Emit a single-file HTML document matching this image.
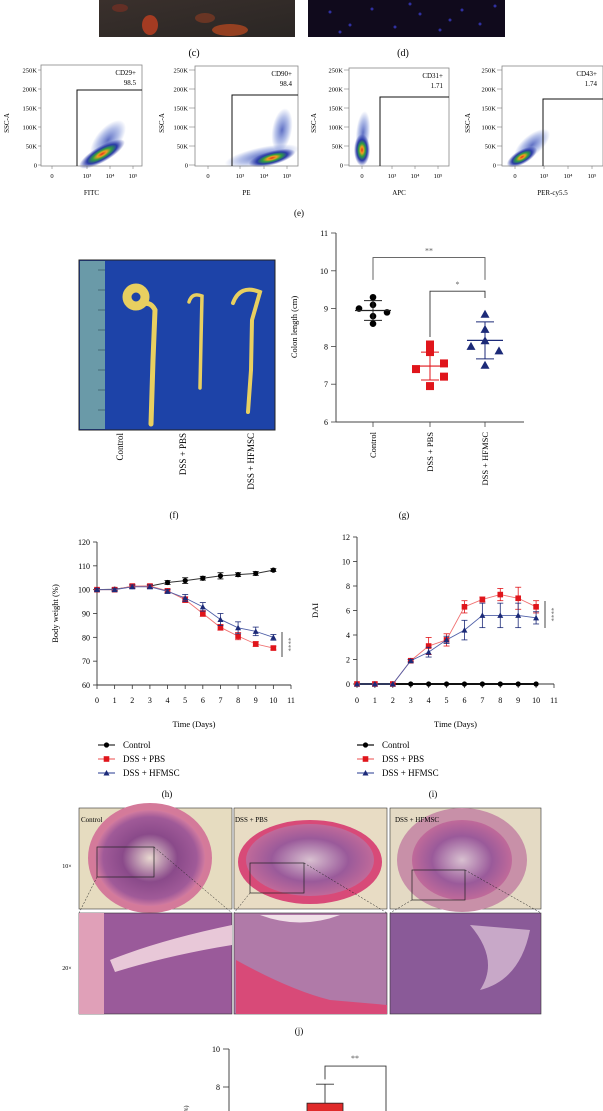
<!DOCTYPE html>
<html><head><meta charset="utf-8">
<style>
html,body{margin:0;padding:0;background:#fff;}
svg{display:block;font-family:"Liberation Serif",serif;}
</style></head>
<body>
<svg id="fig" width="603" height="1111" viewBox="0 0 603 1111" xmlns="http://www.w3.org/2000/svg">
<defs>
<radialGradient id="dens" cx="50%" cy="50%" r="50%">
<stop offset="0" stop-color="#e0301a"/><stop offset="0.2" stop-color="#f0a020"/><stop offset="0.4" stop-color="#30a040"/><stop offset="0.65" stop-color="#2a3aa8"/><stop offset="1" stop-color="#2a3aa8" stop-opacity="0"/>
</radialGradient>
<radialGradient id="halo" cx="50%" cy="50%" r="50%">
<stop offset="0" stop-color="#2a40b0" stop-opacity="0.75"/><stop offset="0.6" stop-color="#3050c0" stop-opacity="0.35"/><stop offset="1" stop-color="#3050c0" stop-opacity="0"/>
</radialGradient>
<linearGradient id="imgc" x1="0" y1="0" x2="1" y2="1"><stop offset="0" stop-color="#3a302c"/><stop offset="1" stop-color="#2a2624"/></linearGradient>
<radialGradient id="tissue" cx="50%" cy="50%" r="50%"><stop offset="0" stop-color="#e8d8d0"/><stop offset="0.5" stop-color="#8a4a8a"/><stop offset="0.85" stop-color="#a05a98"/><stop offset="1" stop-color="#d07aa0"/></radialGradient>
<radialGradient id="tissue2" cx="50%" cy="50%" r="50%"><stop offset="0" stop-color="#d8c0d0"/><stop offset="0.6" stop-color="#9a5a9a"/><stop offset="1" stop-color="#c06a9a"/></radialGradient>
</defs>

<g>
<rect x="99" y="0" width="196" height="37" fill="url(#imgc)"/>
<ellipse cx="150" cy="25" rx="8" ry="10" fill="#c04020" opacity="0.8"/>
<ellipse cx="230" cy="30" rx="18" ry="6" fill="#c04a20" opacity="0.7"/>
<ellipse cx="205" cy="18" rx="10" ry="5" fill="#a04020" opacity="0.5"/>
<ellipse cx="120" cy="8" rx="8" ry="4" fill="#903020" opacity="0.5"/>
</g>
<g>
<rect x="308" y="0" width="197" height="37" fill="#100a1c"/>
<g fill="#3030a0">
<circle cx="330" cy="12" r="1.5"/><circle cx="350" cy="25" r="1.5"/><circle cx="372" cy="9" r="1.5"/><circle cx="395" cy="27" r="1.5"/><circle cx="420" cy="14" r="1.5"/><circle cx="440" cy="30" r="1.5"/><circle cx="462" cy="10" r="1.5"/><circle cx="480" cy="24" r="1.5"/><circle cx="340" cy="32" r="1.5"/><circle cx="410" cy="4" r="1.5"/><circle cx="450" cy="20" r="1.5"/><circle cx="495" cy="6" r="1.5"/>
</g></g>
<text x="194" y="56" font-size="10" text-anchor="middle">(c)</text>
<text x="403" y="56" font-size="10" text-anchor="middle">(d)</text>

<g id="flow"></g>
<text x="299" y="216" font-size="9" text-anchor="middle">(e)</text>

<g>
<rect x="79" y="260" width="196" height="170" fill="#1d43a8" stroke="#222" stroke-width="1"/>
<rect x="80" y="261" width="25" height="168" fill="#6a9aa8"/>
<g stroke="#2a4a5a" stroke-width="0.6">
<line x1="98" y1="270" x2="105" y2="270"/><line x1="98" y1="290" x2="105" y2="290"/><line x1="98" y1="310" x2="105" y2="310"/><line x1="98" y1="330" x2="105" y2="330"/><line x1="98" y1="350" x2="105" y2="350"/><line x1="98" y1="370" x2="105" y2="370"/><line x1="98" y1="390" x2="105" y2="390"/><line x1="98" y1="410" x2="105" y2="410"/>
</g>
<g fill="none" stroke="#e8cf60" stroke-linecap="round">
<circle cx="136" cy="297" r="9" stroke-width="9"/>
<path d="M140 305 Q150 300 155 310 L153 360 L151 424" stroke-width="5"/>
<path d="M189 302 Q192 292 202 296 L201 340 L200 388" stroke-width="3.5"/>
<path d="M233 303 Q240 284 260 292 L252 320 L251 370 L248 412" stroke-width="4"/>
</g>
</g>
<g font-size="9">
<text transform="translate(123,433) rotate(-90)" text-anchor="end">Control</text>
<text transform="translate(186,433) rotate(-90)" text-anchor="end">DSS + PBS</text>
<text transform="translate(254,433) rotate(-90)" text-anchor="end">DSS + HFMSC</text>
</g>
<text x="174" y="518" font-size="9" text-anchor="middle">(f)</text>

<g id="chartG"></g>
<text x="404" y="518" font-size="9" text-anchor="middle">(g)</text>

<g id="chartH"></g>
<g id="chartI"></g>
<text x="167" y="797" font-size="9" text-anchor="middle">(h)</text>
<text x="433" y="797" font-size="9" text-anchor="middle">(i)</text>

<g>
<rect x="79" y="808" width="153" height="101" fill="#e6dcc0" stroke="#333" stroke-width="0.6"/>
<ellipse cx="150" cy="858" rx="62" ry="55" fill="#d47a9a"/>
<ellipse cx="150" cy="858" rx="55" ry="48" fill="url(#tissue)"/>
<rect x="234" y="808" width="153" height="101" fill="#e8dcc4" stroke="#333" stroke-width="0.6"/>
<ellipse cx="310" cy="862" rx="72" ry="42" fill="#d84a78"/>
<ellipse cx="310" cy="860" rx="64" ry="36" fill="url(#tissue2)"/>
<rect x="390" y="808" width="151" height="101" fill="#e4dac4" stroke="#333" stroke-width="0.6"/>
<ellipse cx="462" cy="860" rx="65" ry="52" fill="#c890a8"/>
<ellipse cx="462" cy="860" rx="50" ry="40" fill="url(#tissue2)"/>
<rect x="79" y="913" width="153" height="101" fill="#9a5a9a" stroke="#333" stroke-width="0.6"/>
<rect x="79" y="913" width="25" height="101" fill="#e0a0b8"/>
<path d="M110 960 Q160 940 232 925 L232 945 Q170 955 115 972 Z" fill="#e8c8d8"/>
<rect x="234" y="913" width="153" height="101" fill="#b07aa8" stroke="#333" stroke-width="0.6"/>
<path d="M236 960 Q290 990 330 1000 L387 1005 L387 1014 L236 1014 Z" fill="#d84a78"/>
<path d="M260 915 Q300 930 340 915 Z" fill="#f0e0e8"/>
<rect x="390" y="913" width="151" height="101" fill="#8a5a98" stroke="#333" stroke-width="0.6"/>
<path d="M470 925 Q500 960 480 990 Q520 980 530 930 Z" fill="#c8a8c8"/>
<g fill="none" stroke="#222" stroke-width="0.7">
<rect x="97" y="847" width="57" height="30"/>
<rect x="250" y="863" width="54" height="30"/>
<rect x="412" y="870" width="53" height="30"/>
</g>
<g stroke="#222" stroke-width="0.5" stroke-dasharray="2,1.5">
<line x1="97" y1="877" x2="79" y2="913"/><line x1="154" y1="847" x2="232" y2="913"/>
<line x1="250" y1="893" x2="234" y2="913"/><line x1="304" y1="863" x2="387" y2="913"/>
<line x1="412" y1="900" x2="390" y2="913"/><line x1="465" y1="870" x2="541" y2="913"/>
</g>
<text x="81" y="822" font-size="7">Control</text>
<text x="235" y="822" font-size="7">DSS + PBS</text>
<text x="395" y="822" font-size="7">DSS + HFMSC</text>
</g>
<text x="67" y="868" font-size="6" text-anchor="middle">10×</text>
<text x="67" y="970" font-size="6" text-anchor="middle">20×</text>
<text x="299" y="1034" font-size="9" text-anchor="middle">(j)</text>

<g id="chartK"></g>
</svg>

<script>
const flowMarkers = ["CD29+","CD90+","CD31+","CD43+"];
const flowValues = ["98.5","98.4","1.71","1.74"];
const flowAxes = ["FITC","PE","APC","PER-cy5.5"];
const flowYTicks = ["250K","200K","150K","100K","50K","0"];

const colonCats = ["Control","DSS + PBS","DSS + HFMSC"];
const colonControl = [9.3,9.1,9.0,8.9,8.8,8.6];
const colonPBS = [8.05,7.85,7.55,7.4,7.2,6.95];
const colonHFMSC = [8.85,8.45,8.15,8.0,7.88,7.5];
const colonMean = [8.95,7.48,8.16];
const colonSD = [0.26,0.37,0.49];
const colonYTicks = [6,7,8,9,10,11];

const days = [0,1,2,3,4,5,6,7,8,9,10];
const bwControl = [100,100.2,101.3,101.5,103,103.8,104.8,105.8,106.3,106.8,108.2];
const bwControlErr = [0.5,0.5,0.6,0.6,0.8,1.2,0.8,1.3,0.8,0.8,0.6];
const bwPBS = [100,100,101.5,101.5,99.5,95.8,90,84.2,80.5,77.2,75.5];
const bwPBSErr = [0.5,0.6,0.8,0.8,0.8,1.2,1.2,1.2,1.5,1,0.8];
const bwHFMSC = [100,100,101.2,101.2,99.3,96.5,92.8,87.5,84,82.5,80];
const bwHFMSCErr = [0.5,0.6,0.8,0.8,0.8,1.5,1.8,2.5,2.5,1.8,1.2];
const bwYTicks = [60,70,80,90,100,110,120];

const daiControl = [0,0,0,0,0,0,0,0,0,0,0];
const daiPBS = [0,0,0,1.9,3.1,3.6,6.3,6.9,7.3,7.0,6.3];
const daiPBSErr = [0,0,0,0.1,0.7,0.5,0.5,0.2,0.5,0.9,0.5];
const daiHFMSC = [0,0,0,1.9,2.6,3.6,4.4,5.6,5.6,5.6,5.4];
const daiHFMSCErr = [0,0,0,0.1,0.4,0.3,0.8,1.0,1.0,1.0,0.5];
const daiYTicks = [0,2,4,6,8,10,12];
const xTicks = [0,1,2,3,4,5,6,7,8,9,10,11];

const barValues = [7.15];
const barErr = [1.0];
const barYTicks = [8,10];

const NS = "http://www.w3.org/2000/svg";
function mk(tag, attrs, parent){ const e=document.createElementNS(NS,tag); for(const k in attrs) e.setAttribute(k,attrs[k]); parent.appendChild(e); return e; }
function txt(parent, x, y, s, size, anchor, extra){ const t=mk("text",Object.assign({x:x,y:y,"font-size":size,"text-anchor":anchor||"start"},extra||{}),parent); t.textContent=s; return t; }

(function(){
  const g=document.getElementById("flow");
  const frames=[{x0:41,x1:142,top:65,gate:77,gt:90,lab:37,ssc:6,xt:[52,87,110,133],
                  blobs:[[108,140,24,12,-50,"halo"],[102,154,26,8,-30,"dens"]]},
                {x0:195,x1:298,top:66,gate:232,gt:95,lab:188,ssc:161,xt:[208,240,264,287],
                  blobs:[[282,130,10,22,10,"halo"],[262,156,38,9,-12,"halo"],[272,158,24,7,-15,"dens"]]},
                {x0:349,x1:449,top:68,gate:380,gt:97,lab:343,ssc:313,xt:[362,392,415,438],
                  blobs:[[363,133,7,22,5,"halo"],[362,150,8,16,0,"dens"]]},
                {x0:502,x1:603,top:66,gate:543,gt:99,lab:496,ssc:467,xt:[515,544,568,592],
                  blobs:[[532,145,22,10,-40,"halo"],[522,157,17,7,-30,"dens"]]}];
  const bottom=166;
  frames.forEach((f,i)=>{
    const p=mk("g",{},g);
    
    
    f.blobs.forEach(b=>mk("ellipse",{cx:b[0],cy:b[1],rx:b[2],ry:b[3],fill:`url(#${b[5]})`,transform:`rotate(${b[4]} ${b[0]} ${b[1]})`},p));
    mk("rect",{x:f.x0,y:f.top,width:f.x1-f.x0,height:bottom-f.top,fill:"none",stroke:"#888","stroke-width":0.8},p);
    mk("polyline",{points:`${f.gate},${bottom} ${f.gate},${f.gt} ${f.x1},${f.gt}`,fill:"none",stroke:"#111","stroke-width":1},p);
    txt(p,f.x1-6,f.top+10,flowMarkers[i],7,"end");
    txt(p,f.x1-6,f.top+20,flowValues[i],7,"end");
    flowYTicks.forEach((s,j)=>{ const y=70+j*19; txt(p,f.lab,y+2.5,s,6.5,"end"); mk("line",{x1:f.lab+1,x2:f.x0,y1:y,y2:y,stroke:"#666","stroke-width":0.5},p); });
    const xl=["0","10³","10⁴","10⁵"];
    f.xt.forEach((x,j)=>{ txt(p,x,178,xl[j],6.5,"middle"); mk("line",{x1:x,x2:x,y1:bottom,y2:bottom+3,stroke:"#666","stroke-width":0.5},p); });
    txt(p,(f.x0+f.x1)/2,195,flowAxes[i],7,"middle");
    txt(p,0,0,"SSC-A",7,"middle",{transform:`translate(${f.ssc+3},123) rotate(-90)`});
  });
})();

(function(){
  const g=document.getElementById("chartG");
  const X0=336,X1=524,yS=v=>422-(v-6)*37.8;
  const cx=[373,430,485];
  mk("line",{x1:X0,x2:X0,y1:yS(11),y2:yS(6),stroke:"#444","stroke-width":1},g);
  mk("line",{x1:X0,x2:X1,y1:yS(6),y2:yS(6),stroke:"#444","stroke-width":1},g);
  colonYTicks.forEach(v=>{ mk("line",{x1:X0-5,x2:X0,y1:yS(v),y2:yS(v),stroke:"#444","stroke-width":0.8},g); txt(g,X0-8,yS(v)+3,String(v),8,"end"); });
  cx.forEach((x,i)=>{ mk("line",{x1:x,x2:x,y1:yS(6),y2:yS(6)+5,stroke:"#444","stroke-width":0.8},g);
    txt(g,0,0,colonCats[i],8.5,"end",{transform:`translate(${x+3},${yS(6)+10}) rotate(-90)`}); });
  txt(g,0,0,"Colon length (cm)",8.5,"middle",{transform:`translate(297,327) rotate(-90)`});
  const offA=[0,0,-14,14,0,0];
  const offB=[0,0,14,-14,14,0];
  const offC=[0,0,0,-14,14,0];
  colonControl.forEach((v,j)=>{ const c=mk("circle",{cx:cx[0]+offA[j],cy:yS(v),r:3.3,fill:"#000"},g);   });
  colonPBS.forEach((v,j)=>{ const r=mk("rect",{x:cx[1]+offB[j]-4,y:yS(v)-4,width:8,height:8,fill:"#e0151b"},g);   });
  colonHFMSC.forEach((v,j)=>{ const x=cx[2]+offC[j],y=yS(v); const p=mk("polygon",{points:`${x},${y-4.5} ${x+4.5},${y+3.5} ${x-4.5},${y+3.5}`,fill:"#1c2a78"},g);   });
  const cols=["#222","#e0151b","#1c2a78"];
  colonMean.forEach((m,i)=>{ const c=cols[i];
    mk("line",{x1:cx[i]-18,x2:cx[i]+18,y1:yS(m),y2:yS(m),stroke:c,"stroke-width":1.2},g);
    mk("line",{x1:cx[i],x2:cx[i],y1:yS(m+colonSD[i]),y2:yS(m-colonSD[i]),stroke:c,"stroke-width":1},g);
    [m+colonSD[i],m-colonSD[i]].forEach(v=>mk("line",{x1:cx[i]-9,x2:cx[i]+9,y1:yS(v),y2:yS(v),stroke:c,"stroke-width":1},g)); });
  mk("polyline",{points:`${cx[0]},${yS(9.76)} ${cx[0]},${yS(10.35)} ${cx[2]},${yS(10.35)} ${cx[2]},${yS(9.76)}`,fill:"none",stroke:"#555","stroke-width":0.9},g);
  txt(g,(cx[0]+cx[2])/2,yS(10.35)-4,"**",8,"middle",{fill:"#666"});
  mk("polyline",{points:`${cx[1]},${yS(8.25)} ${cx[1]},${yS(9.46)} ${cx[2]},${yS(9.46)} ${cx[2]},${yS(9.28)}`,fill:"none",stroke:"#333","stroke-width":0.9},g);
  txt(g,(cx[1]+cx[2])/2,yS(9.46)-4,"*",8,"middle",{fill:"#666"});
})();

function lineChart(g, X0, X1, Ytop, Ybot, vmin, vmax, yTicks, ylabel, series, sig, legendX){
  const xS=d=>X0+(X1-X0)*d/11, yS=v=>Ybot-(v-vmin)*(Ybot-Ytop)/(vmax-vmin);
  mk("line",{x1:X0,x2:X0,y1:Ytop,y2:Ybot,stroke:"#333","stroke-width":0.9},g);
  mk("line",{x1:X0,x2:X1,y1:Ybot,y2:Ybot,stroke:"#333","stroke-width":0.9},g);
  yTicks.forEach(v=>{ mk("line",{x1:X0-4,x2:X0,y1:yS(v),y2:yS(v),stroke:"#333","stroke-width":0.8},g); txt(g,X0-7,yS(v)+3,String(v),8,"end"); });
  xTicks.forEach(d=>{ mk("line",{x1:xS(d),x2:xS(d),y1:Ybot,y2:Ybot+4,stroke:"#333","stroke-width":0.8},g); txt(g,xS(d),703,String(d),8,"middle"); });
  txt(g,(X0+X1)/2,727,"Time (Days)",8.5,"middle");
  txt(g,0,0,ylabel,8.5,"middle",{transform:`translate(${X0-39},${(Ytop+Ybot)/2}) rotate(-90)`});
  series.forEach(s=>{
    const pts=days.map((d,i)=>`${xS(d)},${yS(s.v[i])}`).join(" ");
    const pl=mk("polyline",{points:pts,fill:"none",stroke:s.line,"stroke-width":s.w},g);
    
    
    days.forEach((d,i)=>{ const x=xS(d),y=yS(s.v[i]);
      if(s.e&&s.e[i]>0){ const e=s.e[i]; mk("line",{x1:x,x2:x,y1:yS(s.v[i]+e),y2:yS(s.v[i]-e),stroke:s.c,"stroke-width":0.8},g);
        [s.v[i]+e,s.v[i]-e].forEach(v=>mk("line",{x1:x-3,x2:x+3,y1:yS(v),y2:yS(v),stroke:s.c,"stroke-width":0.8},g)); }
      let m;
      if(s.shape==="c") m=mk("circle",{cx:x,cy:y,r:2.6,fill:s.c},g);
      else if(s.shape==="s") m=mk("rect",{x:x-2.8,y:y-2.8,width:5.6,height:5.6,fill:s.c},g);
      else m=mk("polygon",{points:`${x},${y-3} ${x+3},${y+2.5} ${x-3},${y+2.5}`,fill:s.c},g);
      
      
    });
  });
  mk("line",{x1:sig.x,x2:sig.x,y1:sig.y1,y2:sig.y2,stroke:"#333","stroke-width":0.9},g);
  txt(g,0,0,"****",7,"middle",{fill:"#666",transform:`translate(${sig.x+4},${(sig.y1+sig.y2)/2}) rotate(90)`});
  const lg=mk("g",{},g);
  
  
  const names=["Control","DSS + PBS","DSS + HFMSC"];
  [745,759,773].forEach((y,i)=>{ const s=series[i];
    mk("line",{x1:legendX,x2:legendX+17,y1:y,y2:y,stroke:s.line,"stroke-width":1.2},lg);
    const cx=legendX+8.5;
    if(s.shape==="c") mk("circle",{cx:cx,cy:y,r:2.6,fill:s.c},lg);
    else if(s.shape==="s") mk("rect",{x:cx-2.8,y:y-2.8,width:5.6,height:5.6,fill:s.c},lg);
    else mk("polygon",{points:`${cx},${y-3} ${cx+3},${y+2.5} ${cx-3},${y+2.5}`,fill:s.c},lg);
    txt(lg,legendX+25,y+3,names[i],9,"start"); });
}
lineChart(document.getElementById("chartH"),97,291,542,685,60,120,bwYTicks,"Body weight (%)",[
  {name:"control",v:bwControl,e:bwControlErr,c:"#000",line:"#333",w:1,shape:"c"},
  {name:"pbs",v:bwPBS,e:bwPBSErr,c:"#e0151b",line:"#f07070",w:0.9,shape:"s"},
  {name:"hfmsc",v:bwHFMSC,e:bwHFMSCErr,c:"#1c2a78",line:"#5060a8",w:0.9,shape:"t"}],{x:282,y1:632,y2:657},98);
lineChart(document.getElementById("chartI"),357,554,537,684,0,12,daiYTicks,"DAI",[
  {name:"control",v:daiControl,e:null,c:"#000",line:"#111",w:2,shape:"c"},
  {name:"pbs",v:daiPBS,e:daiPBSErr,c:"#e0151b",line:"#f07070",w:0.9,shape:"s"},
  {name:"hfmsc",v:daiHFMSC,e:daiHFMSCErr,c:"#1c2a78",line:"#5060a8",w:0.9,shape:"t"}],{x:545,y1:601,y2:628},357);

(function(){
  const g=document.getElementById("chartK");
  const X0=229,yS=v=>1087-(v-8)*19;
  mk("line",{x1:X0,x2:X0,y1:yS(10),y2:1111,stroke:"#333","stroke-width":0.9},g);
  barYTicks.forEach(v=>{ mk("line",{x1:X0-6,x2:X0,y1:yS(v),y2:yS(v),stroke:"#333","stroke-width":0.8},g); txt(g,X0-9,yS(v)+3,String(v),8,"end"); });
  const bx=[325];
  barValues.forEach((v,i)=>{
    const x=bx[i];
    mk("line",{x1:x,x2:x,y1:yS(v+barErr[i]),y2:yS(v),stroke:"#333","stroke-width":0.9},g);
    mk("line",{x1:x-9,x2:x+9,y1:yS(v+barErr[i]),y2:yS(v+barErr[i]),stroke:"#333","stroke-width":0.9},g);
    const r=mk("rect",{x:x-18,y:yS(v),width:36,height:1111-yS(v)+2,fill:"#e02a2a",stroke:"#222","stroke-width":0.8},g);
    
    
  });
  mk("polyline",{points:`${bx[0]},${yS(8.4)} ${bx[0]},${yS(9.1)} 386,${yS(9.1)} 386,1111`,fill:"none",stroke:"#333","stroke-width":0.9},g);
  txt(g,355,yS(9.1)-5,"**",8,"middle",{fill:"#555"});
  txt(g,0,0,"(%)",6,"middle",{transform:"translate(188,1110) rotate(-90)"});
})();
</script>
</body></html>
